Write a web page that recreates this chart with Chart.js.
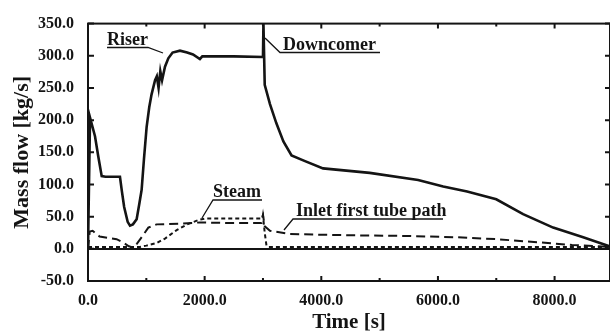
<!DOCTYPE html>
<html>
<head>
<meta charset="utf-8">
<script src="https://cdn.jsdelivr.net/npm/chart.js@4.4.1/dist/chart.umd.min.js"></script>
<style>
  html, body { margin: 0; padding: 0; background: #fff; }
  #wrap { width: 610px; height: 332px; }
</style>
</head>
<body>
<div id="wrap"><canvas id="chart" width="610" height="332"></canvas></div>
<script>
// ---- data (time in s, mass flow in kg/s) ----
const riserTime = [0, 35, 120, 177, 235, 300, 548, 580, 620, 680, 720, 770, 834, 880, 920, 960, 1005, 1050, 1090, 1150, 1180, 1210, 1240, 1270, 1320, 1377, 1450, 1577, 1700, 1800, 1919, 1960, 2005, 2500, 3000];
const riserFlow = [0, 204, 175, 143, 113, 112, 112, 90, 65, 42, 36, 38, 46, 70, 92, 140, 189, 220, 240, 262, 268, 250, 276, 262, 283, 296, 305, 308, 305, 302, 295, 299, 299, 299, 298];

const downTime = [3000, 3008, 3030, 3120, 3230, 3350, 3490, 3700, 4030, 4830, 5660, 6090, 6500, 7000, 7460, 7975, 8490, 8940];
const downFlow = [298, 350, 255, 225, 195, 167, 145, 137, 125, 118, 107, 97, 89, 77, 54, 33, 18, 4];

const steamTime = [0, 200, 500, 800, 890, 1000, 1177, 1320, 1520, 1700, 1900, 2000, 2500, 2975, 3000, 3030, 3060, 3100, 4000, 6000, 8940];
const steamFlow = [3, 3, 3, 3, 3, 5, 9, 16, 29, 38, 45, 47, 47, 47, 52, 25, 5, 3, 3, 3, 3];

const inletTime = [0, 30, 80, 200, 490, 600, 700, 780, 840, 950, 1034, 1177, 1577, 1920, 2500, 2975, 3000, 3030, 3120, 3460, 4500, 5500, 6317, 7000, 7740, 8300, 8940];
const inletFlow = [0, 27, 28, 19, 15, 10, 4, 2, 8, 22, 33, 38, 39, 41, 40, 40, 53, 35, 28, 23, 21, 20, 18, 15, 10, 6, 3];

const xTicks = [0, 1000, 2000, 3000, 4000, 5000, 6000, 7000, 8000];
const yTicks = [-50, 0, 50, 100, 150, 200, 250, 300, 350];

const toPoints = (ts, vs) => ts.map((t, i) => ({ x: t, y: vs[i] }));

const INK = "#141414";
const SERIF = "'Liberation Serif', 'Times New Roman', serif";

// annotation labels with leader lines (pixel layout)
const notes = [
  { text: "Riser", x: 107, y: 45, line: [[107, 47.5], [148, 47.5], [163, 53]] },
  { text: "Downcomer", x: 283, y: 50, line: [[265, 38], [280, 52.5], [380, 52.5]] },
  { text: "Steam", x: 213, y: 197, line: [[202, 218], [213, 200], [262, 200]] },
  { text: "Inlet first tube path", x: 296, y: 216, line: [[284, 230], [293, 219], [443, 219]] },
];

// frame, inward ticks and labels
const framePlugin = {
  id: "frame",
  afterDraw(chart) {
    const { ctx, chartArea: a, scales } = chart;
    ctx.save();
    ctx.strokeStyle = INK;
    ctx.lineWidth = 2;
    ctx.strokeRect(a.left, a.top, a.right - a.left, a.bottom - a.top);

    ctx.beginPath();
    xTicks.forEach((t) => {
      const px = scales.x.getPixelForValue(t);
      const len = t % 2000 === 0 ? 5 : 3;
      ctx.moveTo(px, a.bottom); ctx.lineTo(px, a.bottom - len);
      ctx.moveTo(px, a.top); ctx.lineTo(px, a.top + len);
    });
    yTicks.forEach((v) => {
      const py = scales.y.getPixelForValue(v);
      ctx.moveTo(a.left, py); ctx.lineTo(a.left + 6, py);
      ctx.moveTo(a.right, py); ctx.lineTo(a.right - 5, py);
    });
    ctx.stroke();

    ctx.lineWidth = 1.3;
    ctx.fillStyle = INK;
    ctx.font = "bold 18px " + SERIF;
    ctx.textBaseline = "alphabetic";
    notes.forEach((n) => {
      ctx.fillText(n.text, n.x, n.y);
      ctx.beginPath();
      n.line.forEach(([lx, ly], i) => (i ? ctx.lineTo(lx, ly) : ctx.moveTo(lx, ly)));
      ctx.stroke();
    });
    ctx.restore();
  },
};

const line = (label, ts, vs, width, dash) => ({
  label,
  data: toPoints(ts, vs),
  borderColor: INK,
  borderWidth: width,
  borderDash: dash,
  pointRadius: 0,
  fill: false,
  tension: 0,
});

new Chart(document.getElementById("chart"), {
  type: "line",
  data: {
    datasets: [
      line("Inlet first tube path", inletTime, inletFlow, 2, [9, 5]),
      line("Steam", steamTime, steamFlow, 2, [4, 3]),
      line("Riser", riserTime, riserFlow, 2.6, []),
      line("Downcomer", downTime, downFlow, 2.6, []),
    ],
  },
  options: {
    responsive: false,
    animation: false,
    devicePixelRatio: 1,
    layout: { padding: { top: 20, right: 0, left: 0, bottom: 0 } },
    plugins: { legend: { display: false }, tooltip: { enabled: false } },
    scales: {
      x: {
        type: "linear",
        min: 0,
        max: 8950,
        afterFit: (s) => { s.height = 51; },
        afterBuildTicks: (s) => { s.ticks = xTicks.map((v) => ({ value: v })); },
        ticks: {
          autoSkip: false,
          maxRotation: 0,
          padding: 10,
          color: INK,
          font: { family: SERIF, size: 16, weight: "bold" },
          callback: (v) => (v % 2000 === 0 ? v.toFixed(1) : ""),
        },
        grid: { drawOnChartArea: false, drawTicks: false },
        border: { display: false },
        title: {
          display: true,
          text: "Time [s]",
          color: INK,
          font: { family: SERIF, size: 21, weight: "bold" },
          padding: { top: 0, bottom: -3 },
        },
      },
      y: {
        min: -50,
        max: 350,
        afterFit: (s) => { s.width = 88; },
        afterBuildTicks: (s) => { s.ticks = yTicks.map((v) => ({ value: v })); },
        ticks: {
          padding: 14,
          color: INK,
          font: { family: SERIF, size: 16, weight: "bold" },
          callback: (v) => v.toFixed(1),
        },
        grid: {
          drawTicks: false,
          lineWidth: 2,
          color: (c) => (c.tick && c.tick.value === 0 ? INK : "rgba(0,0,0,0)"),
        },
        border: { display: false },
        title: {
          display: true,
          text: "Mass flow [kg/s]",
          color: INK,
          font: { family: SERIF, size: 22, weight: "bold" },
          padding: { top: 9, bottom: 0 },
        },
      },
    },
  },
  plugins: [framePlugin],
});
</script>
</body>
</html>
